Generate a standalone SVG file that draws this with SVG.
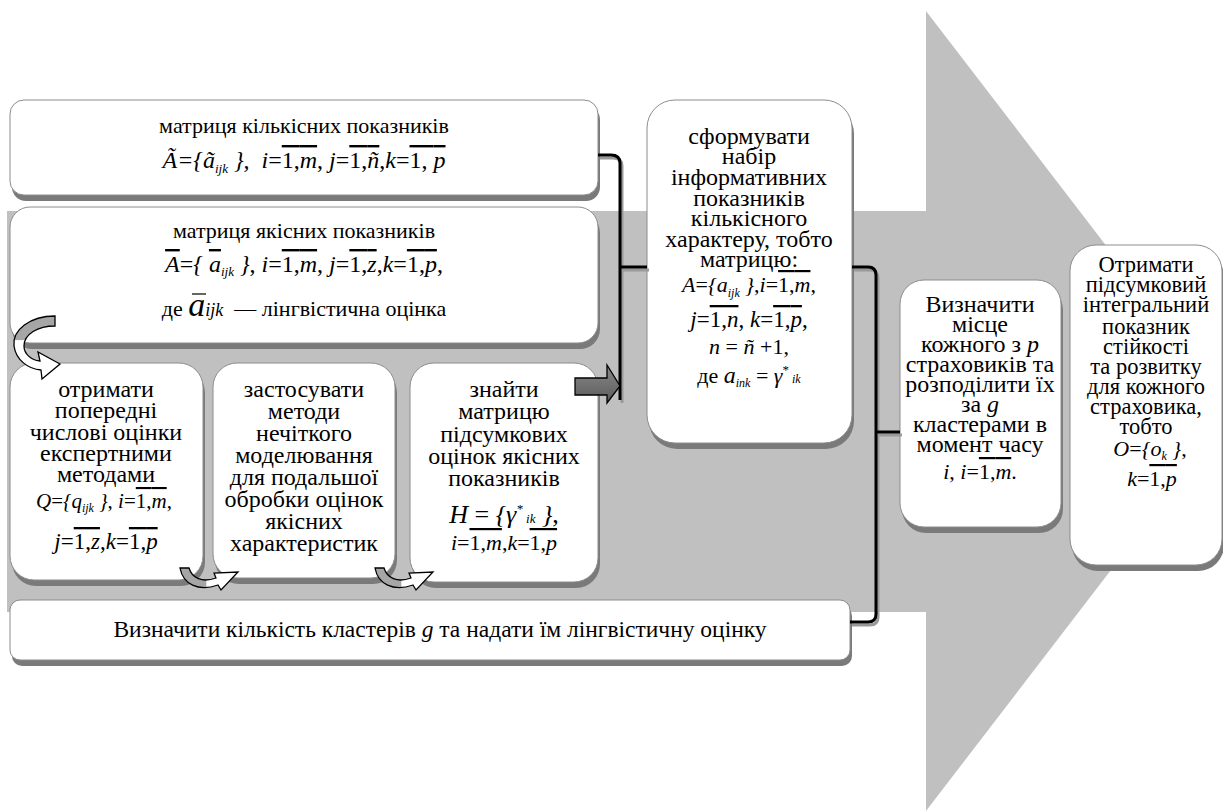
<svg xmlns="http://www.w3.org/2000/svg" width="1223" height="812" viewBox="0 0 1223 812">
<defs>
<style>
.bg{fill:#c0c0c0}
.box{fill:#fff;stroke:#8c8c8c;stroke-width:1}
.sh{fill:#7a7a7a}
.t{font-family:"Liberation Serif","Times New Roman",serif;font-size:22px;text-anchor:middle;fill:#000}
.tb{font-size:24px}
.tr1{font-size:24px}
.tr2{font-size:22.5px}
.fm{font-family:"Liberation Serif","Times New Roman",serif;font-size:23px;font-style:italic;text-anchor:middle;fill:#000}
.n{font-style:normal}
.ol{text-decoration:overline}
.sb{font-size:13px}
.con{fill:none;stroke:#000;stroke-width:3}
.csh{fill:none;stroke:#999;stroke-width:3}
.ca{stroke:#000;stroke-width:1.3}
.bar{stroke:#000;stroke-width:1.2}
</style>
<linearGradient id="gu" x1="0" y1="0" x2="1" y2="0">
<stop offset="0" stop-color="#a6a6a6"/><stop offset="0.45" stop-color="#a6a6a6"/><stop offset="0.46" stop-color="#fff"/><stop offset="1" stop-color="#fff"/>
</linearGradient>
<linearGradient id="gc" x1="0" y1="0" x2="0" y2="1">
<stop offset="0" stop-color="#a6a6a6"/><stop offset="0.38" stop-color="#a6a6a6"/><stop offset="0.39" stop-color="#fff"/><stop offset="1" stop-color="#fff"/>
</linearGradient>
<linearGradient id="ga" x1="0" y1="0" x2="0" y2="1">
<stop offset="0" stop-color="#8a8a8a"/><stop offset="1" stop-color="#5a5a5a"/>
</linearGradient>
</defs>

<polygon class="bg" points="7,211 926,211 926,11 1233,411 926,811 926,612 7,612"/>

<g id="box1">
<rect class="sh" x="12" y="106" width="588" height="95" rx="14"/>
<rect class="box" x="10" y="100" width="588" height="95" rx="14"/>
<text class="t" x="304" y="133">матриця кількісних показників</text>
<text class="fm" x="304" y="168" style="font-size:24px">Ã={ã<tspan class="sb" dy="5">ijk</tspan><tspan dy="-5">&#160;},&#160;&#160;i</tspan><tspan class="n">=</tspan><tspan class="ol"><tspan class="n">1,</tspan>m</tspan><tspan class="n">, </tspan>j<tspan class="n">=</tspan><tspan class="ol"><tspan class="n">1,</tspan>ñ</tspan><tspan class="n">,</tspan>k<tspan class="n">=</tspan><tspan class="ol"><tspan class="n">1, </tspan>p</tspan></text>
</g>

<g id="box2">
<rect class="sh" x="12" y="213" width="588" height="136" rx="20"/>
<rect class="box" x="10" y="207" width="588" height="136" rx="20"/>
<text class="t" x="304" y="238">матриця якісних показників</text>
<text class="fm" x="304" y="272" style="font-size:24px"><tspan class="ol">A</tspan><tspan class="n">=</tspan>{&#160;<tspan class="ol">a</tspan><tspan class="sb" dy="4">ijk</tspan><tspan dy="-4">&#160;}</tspan><tspan class="n">, </tspan>i<tspan class="n">=</tspan><tspan class="ol"><tspan class="n">1,</tspan>m</tspan><tspan class="n">, </tspan>j<tspan class="n">=</tspan><tspan class="ol"><tspan class="n">1,</tspan>z</tspan><tspan class="n">,</tspan>k<tspan class="n">=</tspan><tspan class="ol"><tspan class="n">1,</tspan>p</tspan><tspan class="n">,</tspan></text>
<text class="t" x="304" y="316">де <tspan style="font-style:italic;font-size:34px">a</tspan><tspan style="font-style:italic;font-size:18px">ijk</tspan>&#160; — лінгвістична оцінка</text>
<line class="bar" x1="192" y1="294" x2="206" y2="294"/>
</g>

<g id="boxA">
<rect class="sh" x="12" y="369" width="193" height="217" rx="24"/>
<rect class="box" x="10" y="363" width="193" height="217" rx="24"/>
<text class="t tb" x="106" y="397">отримати</text>
<text class="t tb" x="106" y="418">попередні</text>
<text class="t tb" x="106" y="440">числові оцінки</text>
<text class="t tb" x="106" y="461">експертними</text>
<text class="t tb" x="106" y="482">методами</text>
<text class="fm" x="104" y="508" style="font-size:21px">Q<tspan class="n">=</tspan>{q<tspan class="sb" style="font-size:12px" dy="4">ijk</tspan><tspan dy="-4">&#160;}</tspan><tspan class="n">, </tspan>i<tspan class="n">=</tspan><tspan class="ol"><tspan class="n">1,</tspan>m</tspan><tspan class="n">,</tspan></text>
<text class="fm" x="106" y="549">j<tspan class="n">=</tspan><tspan class="ol"><tspan class="n">1,</tspan>z</tspan><tspan class="n">,</tspan>k<tspan class="n">=</tspan><tspan class="ol"><tspan class="n">1,</tspan>p</tspan></text>
</g>

<g id="boxB">
<rect class="sh" x="215" y="369" width="182" height="215" rx="24"/>
<rect class="box" x="213" y="363" width="182" height="215" rx="24"/>
<text class="t tb" x="304" y="397">застосувати</text>
<text class="t tb" x="304" y="419">методи</text>
<text class="t tb" x="304" y="441">нечіткого</text>
<text class="t tb" x="304" y="463">моделювання</text>
<text class="t tb" x="304" y="485">для подальшої</text>
<text class="t tb" x="304" y="507">обробки оцінок</text>
<text class="t tb" x="304" y="529">якісних</text>
<text class="t tb" x="304" y="551">характеристик</text>
</g>

<g id="boxC">
<rect class="sh" x="412" y="369" width="188" height="219" rx="24"/>
<rect class="box" x="410" y="363" width="188" height="219" rx="24"/>
<text class="t tb" x="504" y="397">знайти</text>
<text class="t tb" x="504" y="419">матрицю</text>
<text class="t tb" x="504" y="442">підсумкових</text>
<text class="t tb" x="504" y="464">оцінок якісних</text>
<text class="t tb" x="504" y="486">показників</text>
<text class="fm" x="504" y="523" style="font-size:26px">H <tspan class="n">=</tspan> {γ<tspan class="sb" dy="-10">*</tspan><tspan class="sb" dy="10">&#160;ik</tspan>&#160;}<tspan class="n">,</tspan></text>
<text class="fm" x="504" y="550" style="font-size:22px">i<tspan class="n">=</tspan><tspan class="ol"><tspan class="n">1,</tspan>m</tspan><tspan class="n">,</tspan>k<tspan class="n">=</tspan><tspan class="ol"><tspan class="n">1,</tspan>p</tspan></text>
</g>

<g id="boxM">
<rect class="sh" x="649" y="106" width="205" height="343" rx="28"/>
<rect class="box" x="647" y="100" width="205" height="343" rx="28"/>
<text class="t tb" x="749" y="144">сформувати</text>
<text class="t tb" x="749" y="164">набір</text>
<text class="t tb" x="749" y="185">інформативних</text>
<text class="t tb" x="749" y="206">показників</text>
<text class="t tb" x="749" y="226">кількісного</text>
<text class="t tb" x="749" y="247">характеру, тобто</text>
<text class="t tb" x="749" y="267">матрицю:</text>
<text class="fm" x="749" y="292" style="font-size:22px">A<tspan class="n">=</tspan>{a<tspan class="sb" style="font-size:12px" dy="5">ijk</tspan><tspan dy="-5">&#160;}</tspan><tspan class="n">,</tspan>i<tspan class="n">=</tspan><tspan class="ol"><tspan class="n">1,</tspan>m</tspan><tspan class="n">,</tspan></text>
<text class="fm" x="749" y="327">j<tspan class="n">=</tspan><tspan class="ol"><tspan class="n">1,</tspan>n</tspan><tspan class="n">, </tspan>k<tspan class="n">=</tspan><tspan class="ol"><tspan class="n">1,</tspan>p</tspan><tspan class="n">,</tspan></text>
<text class="fm" x="749" y="354" style="font-size:22px">n <tspan class="n">=</tspan> ñ <tspan class="n">+1,</tspan></text>
<text class="t" x="749" y="383">де <tspan style="font-style:italic;font-size:24px">a</tspan><tspan style="font-style:italic;font-size:12px" dy="4">ink</tspan><tspan dy="-4" style="font-size:22px"> = </tspan><tspan style="font-style:italic;font-size:22px">γ</tspan><tspan style="font-size:13px" dy="-9">*</tspan><tspan style="font-style:italic;font-size:12px" dy="9"> ik</tspan></text>
</g>

<g id="boxR1">
<rect class="sh" x="902" y="286" width="161" height="247" rx="24"/>
<rect class="box" x="900" y="280" width="161" height="247" rx="24"/>
<text class="t tr1" x="980" y="312">Визначити</text>
<text class="t tr1" x="980" y="332">місце</text>
<text class="t tr1" x="980" y="352">кожного з <tspan style="font-style:italic">p</tspan></text>
<text class="t tr1" x="980" y="372">страховиків та</text>
<text class="t tr1" x="980" y="392">розподілити їх</text>
<text class="t tr1" x="980" y="412">за <tspan style="font-style:italic">g</tspan></text>
<text class="t tr1" x="980" y="432">кластерами в</text>
<text class="t tr1" x="980" y="452">момент часу</text>
<text class="fm" x="980" y="479" style="font-size:22px">i<tspan class="n">, </tspan>i<tspan class="n">=</tspan><tspan class="ol"><tspan class="n">1,</tspan>m</tspan><tspan class="n">.</tspan></text>
</g>

<g id="boxR2">
<rect class="sh" x="1072" y="251" width="152" height="320" rx="26"/>
<rect class="box" x="1070" y="245" width="152" height="320" rx="26"/>
<text class="t tr2" x="1146" y="272">Отримати</text>
<text class="t tr2" x="1146" y="292">підсумковий</text>
<text class="t tr2" x="1146" y="312">інтегральний</text>
<text class="t tr2" x="1146" y="334">показник</text>
<text class="t tr2" x="1146" y="354">стійкості</text>
<text class="t tr2" x="1146" y="374">та розвитку</text>
<text class="t tr2" x="1146" y="394">для кожного</text>
<text class="t tr2" x="1146" y="414">страховика,</text>
<text class="t tr2" x="1146" y="434">тобто</text>
<text class="fm" x="1150" y="456" style="font-size:22px">O<tspan class="n">=</tspan>{o<tspan class="sb" style="font-size:12px" dy="4">k</tspan><tspan dy="-4">&#160;}</tspan><tspan class="n">,</tspan></text>
<text class="fm" x="1152" y="486" style="font-size:22px">k<tspan class="n">=</tspan><tspan class="ol"><tspan class="n">1,</tspan>p</tspan></text>
</g>

<g id="boxBottom">
<rect class="sh" x="12" y="606" width="840" height="60" rx="10"/>
<rect class="box" x="10" y="600" width="840" height="60" rx="10"/>
<text class="t" x="440" y="637" style="font-size:23.5px">Визначити кількість кластерів <tspan style="font-style:italic">g</tspan> та надати їм лінгвістичну оцінку</text>
</g>

<g id="connectors">
<path class="csh" d="M600 158 L613 158 Q622 158 622 166 L622 403 M622 270 L649 270"/>
<path class="con" d="M598 155 L611 155 Q620 155 620 163 L620 400 M620 267 L647 267"/>
<path class="csh" d="M854 270 L870 270 Q878 270 878 278 L878 617 Q878 625 870 625 L852 625 M878 435 L902 435"/>
<path class="con" d="M852 267 L868 267 Q876 267 876 275 L876 614 Q876 622 868 622 L850 622 M876 432 L900 432"/>
<path class="ca" fill="url(#ga)" d="M575 378 L607 378 L607 365 L620 386 L607 403 L607 395 L575 395 Z"/>
<path class="ca" fill="url(#gc)" d="M55 316 C30 316 12 330 14 346 C16 360 28 369 41 370 L42 379 L60 364 L38 352 L40 361 C31 360 24 354 24 346 C24 334 38 326 55 326 Z"/>
<path class="ca" fill="url(#gu)" d="M180 568 C183 584 198 592 218 585 L221 590 L238 572 L214 573 L216 578 C202 583 192 578 189 568 Z"/>
<path class="ca" fill="url(#gu)" d="M375 568 C378 584 393 592 413 585 L416 590 L433 572 L409 573 L411 578 C397 583 387 578 384 568 Z"/>
</g>
</svg>
